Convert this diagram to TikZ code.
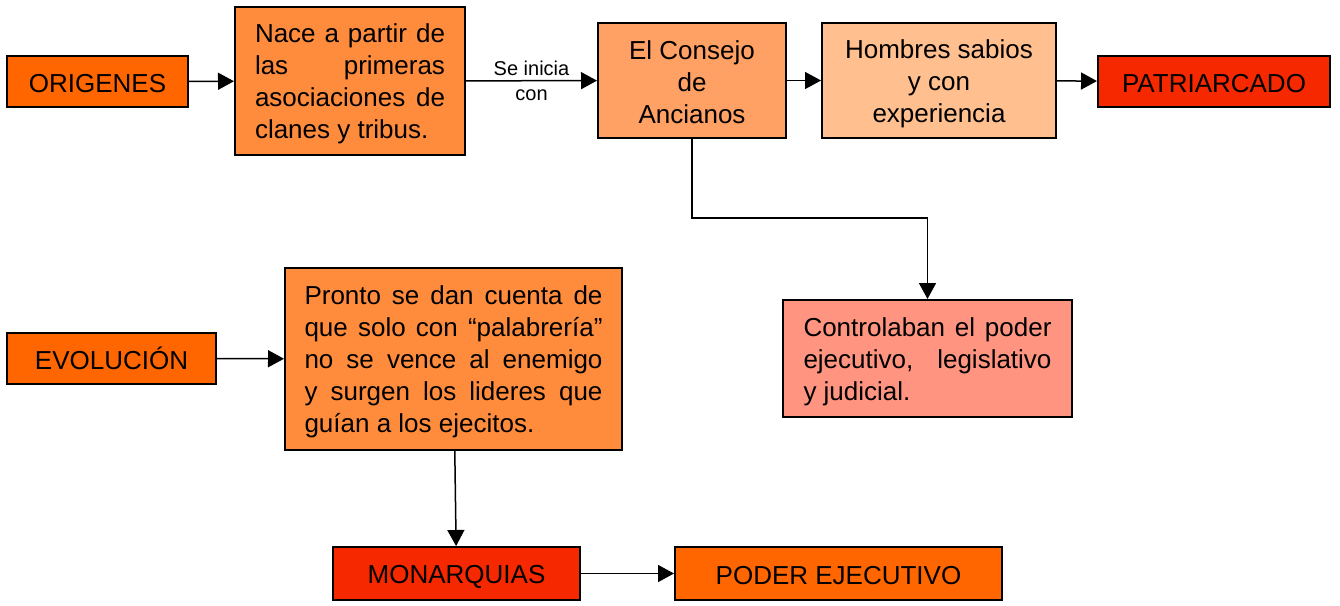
\documentclass[tikz,border=0pt]{standalone}
\usepackage{fontspec}
\setmainfont{Liberation Sans}
\usepackage{tikz}
\usetikzlibrary{arrows.meta}
\definecolor{or_dark}{RGB}{255, 102, 0}
\definecolor{or_mid}{RGB}{255, 140, 60}
\definecolor{or_light}{RGB}{255, 160, 100}
\definecolor{or_pale}{RGB}{255, 191, 143}
\definecolor{or_red}{RGB}{245, 40, 0}
\definecolor{or_pink}{RGB}{255, 148, 128}
\newcommand{\boxfont}{\fontsize{26}{32}\selectfont\tolerance=10000\hyphenpenalty=10000}
\newcommand{\ws}{\rule[-4pt]{0pt}{29pt}}
\tikzstyle{db}=[rectangle,fill=or_dark,draw=black,line width=2pt,inner sep=0pt,font=\boxfont]
\tikzstyle{mb}=[rectangle,fill=or_mid,draw=black,line width=2pt,inner ysep=0pt,font=\boxfont,align=justify]
\tikzstyle{lb}=[rectangle,fill=or_light,draw=black,line width=2pt,inner sep=0pt,font=\boxfont,align=center]
\tikzstyle{pb}=[rectangle,fill=or_pale,draw=black,line width=2pt,inner sep=0pt,font=\boxfont,align=center]
\tikzstyle{rb}=[rectangle,fill=or_red,draw=black,line width=2pt,inner sep=0pt,font=\boxfont]
\tikzstyle{kb}=[rectangle,fill=or_pink,draw=black,line width=2pt,inner ysep=0pt,font=\boxfont,align=justify]
\tikzstyle{lbl}=[inner sep=0pt,align=center,font=\fontsize{20}{25}\selectfont]
\tikzstyle{arr}=[-{Triangle[length=16pt,width=17pt]},line width=1.5pt]
\tikzstyle{none}=[]

\begin{document}
\begin{tikzpicture}[x=1pt,y=-1pt]
            \useasboundingbox (0,0) rectangle (1340,605);
            \node [style=db, minimum width=181, minimum height=51] (0) at (97.5, 81.5) {\ws ORIGENES};
            \node [style=mb, text width=190, inner xsep=20, minimum height=148] (1) at (350, 81) {\ws Nace a partir de\linebreak las primeras\linebreak asociaciones de\linebreak clanes y tribus.\ws};
            \node [style=lb, minimum width=188, minimum height=115] (2) at (692, 80.5) {\ws El Consejo\\de\\Ancianos\ws};
            \node [style=pb, minimum width=234, minimum height=115] (3) at (939, 80.5) {\ws Hombres sabios\\y con\\experiencia\ws};
            \node [style=rb, minimum width=232, minimum height=51] (4) at (1214, 81.5) {\ws PATRIARCADO};
            \node [style=kb, text width=248, inner xsep=20.5, minimum height=117] (5) at (927.5, 358.5) {\ws Controlaban el poder\linebreak ejecutivo, legislativo\linebreak y judicial.\ws};
            \node [style=db, minimum width=209, minimum height=51] (6) at (111.5, 358.5) {\ws EVOLUCIÓN};
            \node [style=mb, text width=298, inner xsep=19.5, minimum height=182] (7) at (453.5, 359) {\ws Pronto se dan cuenta de\linebreak que solo con “palabrería”\linebreak no se vence al enemigo\linebreak y surgen los lideres que\linebreak guían a los ejecitos.\ws};
            \node [style=rb, minimum width=247, minimum height=53] (8) at (456.5, 573.5) {\ws MONARQUIAS};
            \node [style=db, minimum width=327, minimum height=53] (9) at (838.5, 573.5) {\ws PODER EJECUTIVO};
            \coordinate (10) at (692, 218);
            \draw [style=arr] (0) to (1);
            \draw [style=arr] (1) to node [style=lbl] (11) {Se inicia\\con} (2);
            \draw [style=arr] (2) to (3);
            \draw [style=arr] (3) to (4);
            \draw [style=arr] (2) -- (10) -| (5);
            \draw [style=arr] (6) to (7);
            \draw [style=arr] (7) to (8);
            \draw [style=arr] (8) to (9);
    \end{tikzpicture}
\end{document}
